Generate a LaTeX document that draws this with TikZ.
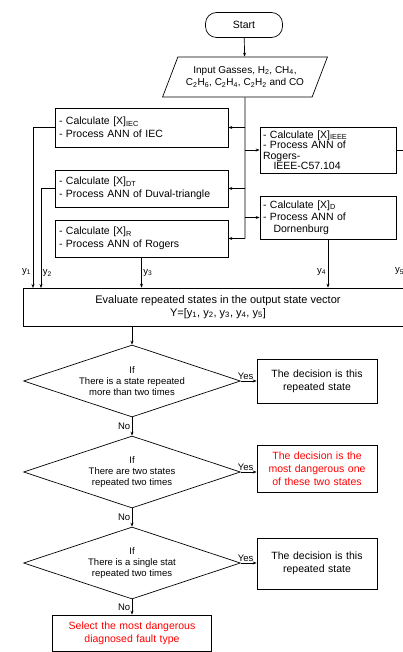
\documentclass[tikz,border=0pt]{standalone}
\usepackage{fontspec}
\setmainfont{Liberation Sans}
\usetikzlibrary{positioning, shapes.geometric, arrows.meta}

\begin{document}
\begin{tikzpicture}[
  x=1pt, y=-1pt,
  every node/.style={font=\fontsize{10.5}{13}\selectfont, inner sep=2pt},
  terminal/.style={draw, rounded corners=11pt, minimum width=77pt, minimum height=25pt},
  io/.style={draw, trapezium, trapezium left angle=61, trapezium right angle=119,
    trapezium stretches=true, minimum width=165pt, minimum height=40pt, align=center,
    font=\fontsize{10}{12.5}\selectfont},
  box/.style={draw, rectangle, align=left, minimum width=173pt, text width=165pt},
  sidebox/.style={draw, rectangle, align=left, minimum width=136pt, text width=130pt},
  evalbox/.style={draw, rectangle, align=center, minimum width=390pt, minimum height=38pt,
    font=\fontsize{11}{13}\selectfont},
  decision/.style={draw, diamond, aspect=3, minimum width=217pt, minimum height=72pt,
    inner sep=0pt, align=center, font=\fontsize{9.5}{11}\selectfont},
  outbox/.style={draw, rectangle, align=center, minimum width=120pt, text width=116pt},
  lbl/.style={font=\fontsize{9.5}{10}\selectfont, inner sep=1.5pt},
  arr/.style={-{Stealth[length=4pt, width=3pt]}},
  line width=0.7pt
]
\useasboundingbox (0,0) rectangle (403,652);

% start and input
\node[terminal] (start) at (244,25) {Start};
\node[io] (input) at (245,77) {Input Gasses, H\textsubscript{2}, CH\textsubscript{4},\\
  C\textsubscript{2}H\textsubscript{6}, C\textsubscript{2}H\textsubscript{4}, C\textsubscript{2}H\textsubscript{2} and CO};

% the five ANN boxes
\node[box, minimum height=39pt] (iec) at (141.5,127.5)
  {- Calculate [X]\textsubscript{IEC}\\- Process ANN of IEC};
\node[box, minimum height=37pt] (duval) at (141.5,188.5)
  {- Calculate [X]\textsubscript{DT}\\- Process ANN of Duval-triangle};
\node[box, minimum height=37pt] (rogers) at (141.5,238.5)
  {- Calculate [X]\textsubscript{R}\\- Process ANN of Rogers};
\node[sidebox, minimum height=46pt, font=\fontsize{10.5}{10.5}\selectfont] (ieee) at (328,150)
  {- Calculate [X]\textsubscript{IEEE}\\- Process ANN of\\Rogers-\\\quad IEEE-C57.104};
\node[sidebox, minimum height=43pt, font=\fontsize{10.5}{12}\selectfont] (dorn) at (328,217.5)
  {- Calculate [X]\textsubscript{D}\\- Process ANN of\\\quad Dornenburg};

\node[evalbox] (eval) at (218,307)
  {Evaluate repeated states in the output state vector\\
   Y=[y\textsubscript{1}, y\textsubscript{2}, y\textsubscript{3}, y\textsubscript{4}, y\textsubscript{5}]};

% decisions
\node[decision] (d1) at (132,381) {If\\There is a state repeated\\more than two times};
\node[decision] (d2) at (132,472) {If\\There are two states\\repeated two times};
\node[decision] (d3) at (132,563) {If\\There is a single stat\\repeated two times};

\node[outbox, minimum height=44pt] (r1) at (317,381) {The decision is this\\repeated state};
\node[outbox, minimum height=47pt, text=red] (r2) at (317,468.5)
  {The decision is the\\most dangerous one\\of these two states};
\node[outbox, minimum height=51pt] (r3) at (317,563.5) {The decision is this\\repeated state};
\node[outbox, minimum width=159pt, text width=155pt, minimum height=36pt, text=red] (final) at (132,633)
  {Select the most dangerous\\diagnosed fault type};

\coordinate (trunk) at (245,238.5);
\coordinate (c1) at (33,288);
\coordinate (c2) at (41,288);
\coordinate (c5) at (406,288);

\draw[arr] (start) -- (input);
\draw (input.south) -- (trunk);
\draw[arr] (trunk |- iec) -- (iec);
\draw[arr] (trunk |- duval) -- (duval);
\draw[arr] (trunk) -- (rogers);
\draw[arr] (trunk |- ieee) -- (ieee);
\draw[arr] (trunk |- dorn) -- (dorn);

\draw[arr] (iec.west) -| node[lbl, pos=.95, left] {y\textsubscript{1}} (c1);
\draw[arr] (duval.west) -| node[lbl, pos=.925, right] {y\textsubscript{2}} (c2);
\draw[arr] (rogers.south) -- node[lbl, right] {y\textsubscript{3}} (rogers.south |- eval.north);
\draw[arr] (dorn.south) -- node[lbl, pos=.67, left] {y\textsubscript{4}} (dorn.south |- eval.north);
\draw[arr] (ieee.east) -| node[lbl, pos=.94, left] {y\textsubscript{5}} (c5);

\draw[arr] (eval.south -| d1.north) -- (d1.north);
\draw[arr] (d1) -- node[lbl, pos=.3, above] {Yes} (r1);
\draw[arr] (d1) -- node[lbl, left] {No} (d2);
\draw[arr] (d2.east) -- node[lbl, pos=.3, above] {Yes} (d2.east -| r2.west);
\draw[arr] (d2) -- node[lbl, left] {No} (d3);
\draw[arr] (d3.east) -- node[lbl, pos=.3, above] {Yes} (d3.east -| r3.west);
\draw[arr] (d3) -- node[lbl, left] {No} (final);

\end{tikzpicture}
\end{document}
